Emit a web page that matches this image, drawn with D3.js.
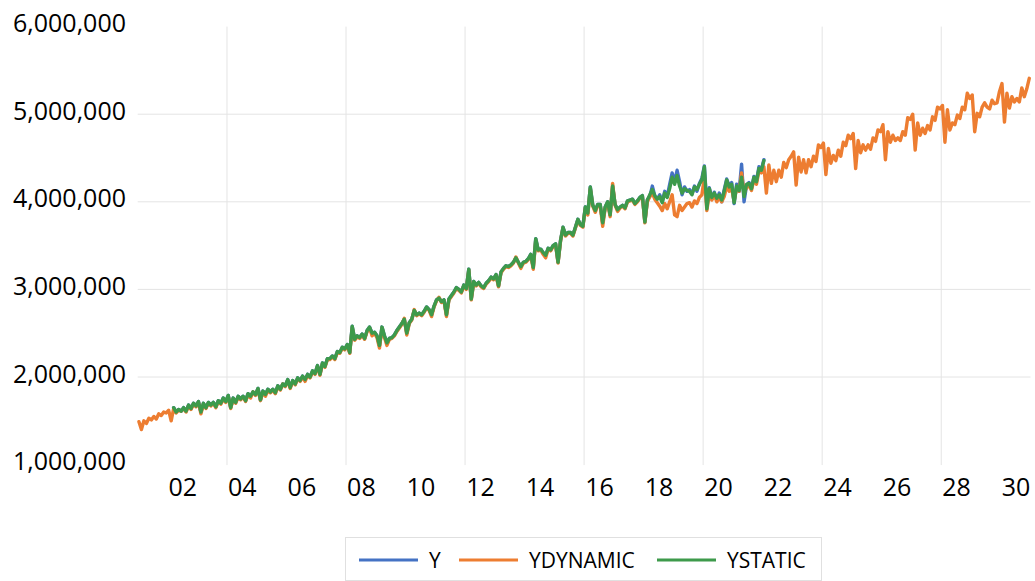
<!DOCTYPE html>
<html>
<head>
<meta charset="utf-8">
<script src="https://d3js.org/d3.v7.min.js"></script>
<style>
  body { margin: 0; background: #fff; }
  svg text { font-family: "Open Sans", "Noto Sans", sans-serif; fill: #000; }
</style>
</head>
<body>
<div id="chart"></div>
<script>

// monthly data, first point = Jul 2000 (month index 0), values in thousands
var startYear = 2000, startMonth = 7;

var seriesNames = ["Y", "YDYNAMIC", "YSTATIC"];
var seriesColors = ["#4472c4", "#ed7d31", "#3d9a4b"];

// YDYNAMIC : Jul 2000 .. Jun 2030
var ydynamic = [
  1490,1400,1500,1470,1530,1510,
  1550,1520,1580,1560,1600,1590,1620,1500,1640,1590,1620,1610,
  1640,1600,1670,1630,1690,1660,1710,1580,1690,1640,1700,1670,
  1700,1650,1720,1690,1750,1710,1780,1640,1750,1700,1770,1740,
  1770,1720,1800,1760,1830,1790,1860,1730,1830,1780,1850,1820,
  1850,1810,1890,1850,1920,1890,1960,1870,1950,1910,1980,1950,
  2000,1950,2020,1990,2060,2030,2120,2020,2150,2110,2200,2200,
  2230,2200,2280,2270,2330,2310,2360,2270,2560,2420,2460,2440,
  2480,2430,2520,2560,2470,2500,2450,2330,2560,2450,2360,2430,
  2440,2470,2520,2560,2600,2670,2480,2610,2650,2770,2700,2720,
  2700,2740,2790,2760,2690,2800,2870,2910,2850,2870,2690,2880,
  2920,2960,3010,2990,2960,3040,3000,3220,2880,3080,3040,3070,
  3030,3010,3060,3090,3130,3110,3160,3030,3190,3230,3260,3250,
  3270,3300,3370,3300,3240,3300,3310,3340,3390,3230,3560,3440,
  3450,3400,3360,3460,3440,3490,3510,3300,3550,3700,3610,3640,
  3640,3610,3700,3790,3730,3710,3930,3850,4150,3950,3880,3960,
  3960,3720,3930,3990,3830,4210,3960,3890,3930,3950,3920,4000,
  4010,4020,3970,4000,4040,4060,3760,4000,4060,4100,4030,3990,
  3950,3900,3980,3920,4000,4080,3850,3830,3960,3900,3940,3980,
  3990,3940,4010,3980,4050,4080,4280,3900,4100,4020,4080,4000,
  4050,4000,4060,4180,4120,4150,4010,4160,4120,4330,4100,4160,
  4190,4130,4260,4200,4350,4330,4400,4100,4420,4210,4360,4230,
  4360,4280,4450,4390,4480,4520,4570,4190,4510,4340,4480,4330,
  4480,4400,4520,4460,4650,4620,4670,4310,4610,4440,4530,4470,
  4590,4520,4680,4640,4760,4720,4780,4380,4700,4560,4650,4590,
  4650,4600,4730,4690,4820,4800,4880,4480,4800,4680,4760,4700,
  4730,4700,4800,4760,4960,4940,5000,4590,4900,4760,4840,4780,
  4870,4820,4970,4930,5080,5060,5100,4680,5050,4820,4900,4880,
  4990,4950,5080,5050,5240,5180,5220,4800,5010,4970,5080,5130,
  5080,5060,5160,5120,5130,5260,5350,4910,5240,5070,5200,5140,
  5180,5140,5300,5200,5290,5410
];

// YSTATIC : Sep 2001 .. Jul 2021
var ystaticStart = 14;
var ystatic = [
  1650,1600,1630,1610,
  1650,1610,1680,1640,1700,1670,1720,1600,1700,1650,1710,1680,
  1710,1660,1730,1700,1760,1720,1790,1650,1760,1710,1780,1750,
  1780,1730,1810,1780,1830,1800,1870,1740,1840,1800,1860,1830,
  1860,1820,1900,1860,1920,1900,1970,1880,1960,1920,1990,1960,
  2010,1970,2030,2000,2070,2040,2130,2030,2160,2120,2210,2210,
  2240,2210,2290,2280,2340,2320,2370,2280,2580,2430,2470,2450,
  2490,2440,2530,2570,2500,2510,2470,2360,2570,2470,2390,2440,
  2450,2480,2530,2570,2610,2660,2500,2620,2660,2760,2710,2730,
  2710,2750,2800,2770,2710,2810,2880,2900,2860,2880,2710,2890,
  2930,2970,3020,3000,2970,3050,3010,3230,2890,3090,3050,3080,
  3040,3020,3070,3100,3140,3120,3170,3040,3200,3240,3270,3260,
  3280,3310,3360,3310,3260,3310,3320,3350,3400,3250,3580,3450,
  3460,3420,3390,3470,3450,3500,3520,3310,3560,3710,3620,3650,
  3650,3620,3710,3800,3740,3720,3940,3870,4170,3960,3900,3970,
  3970,3760,3940,4000,3850,4180,3970,3910,3940,3960,3930,4010,
  4020,4030,3980,4010,4050,4070,3770,4020,4080,4140,4070,4030,
  4060,3990,4100,4050,4150,4280,4200,4300,4180,4100,4150,4130,
  4120,4080,4170,4140,4200,4250,4400,3920,4150,4050,4100,4040,
  4080,4020,4120,4250,4170,4200,3990,4180,4130,4280,4060,4200,
  4210,4150,4280,4230,4380,4360,4470
];

// Y : Sep 2001 .. Jul 2021
var yStart = 14;
var yActual = [
  1650,1600,1630,1610,
  1650,1610,1680,1640,1700,1670,1720,1600,1700,1650,1710,1680,
  1710,1660,1730,1700,1760,1720,1790,1650,1760,1710,1780,1750,
  1780,1730,1810,1780,1830,1800,1870,1740,1840,1800,1860,1830,
  1860,1820,1900,1860,1920,1900,1970,1880,1960,1920,1990,1960,
  2010,1970,2030,2000,2070,2040,2130,2030,2160,2120,2210,2210,
  2240,2210,2290,2280,2340,2320,2370,2280,2580,2430,2470,2450,
  2490,2440,2530,2570,2500,2510,2470,2360,2570,2470,2390,2440,
  2450,2480,2530,2570,2610,2660,2500,2620,2660,2760,2710,2730,
  2710,2750,2800,2770,2710,2810,2880,2900,2860,2880,2710,2890,
  2930,2970,3020,3000,2970,3050,3010,3230,2890,3090,3050,3080,
  3040,3020,3070,3100,3140,3120,3170,3040,3200,3240,3270,3260,
  3280,3310,3360,3310,3260,3310,3320,3350,3400,3250,3580,3450,
  3460,3420,3390,3470,3450,3500,3520,3310,3560,3710,3620,3650,
  3650,3620,3710,3800,3740,3720,3940,3870,4170,3960,3900,3970,
  3970,3760,3940,4000,3850,4180,3970,3910,3940,3960,3930,4010,
  4020,4030,3980,4010,4050,4070,3770,4020,4060,4180,4070,4030,
  4080,4000,4120,4060,4200,4330,4230,4360,4230,4080,4170,4120,
  4140,4090,4180,4120,4210,4270,4410,3950,4160,4030,4110,4020,
  4100,4000,4140,4260,4180,4220,3980,4200,4120,4430,4000,4190,
  4220,4160,4290,4240,4400,4370,4480
];

// axis ticks
var yTicks = [1000, 2000, 3000, 4000, 5000, 6000];
var yGrid = [2000, 3000, 4000, 5000];
var xTickYears = [2002,2004,2006,2008,2010,2012,2014,2016,2018,2020,2022,2024,2026,2028,2030];
var xTickLabels = ["02","04","06","08","10","12","14","16","18","20","22","24","26","28","30"];
var xGridMonths = [36, 84, 132, 180, 228, 276, 324];   // Jul 2003, Jul 2007, ...

var W = 1035, H = 581;
var plot = {left: 137.7, right: 1030.5, top: 26.6, bottom: 464.6};

var svg = d3.select("#chart").append("svg")
  .attr("width", W).attr("height", H);

var nMonths = ydynamic.length;
var x = d3.scaleLinear().domain([0, nMonths]).range([plot.left, plot.right]);
var y = d3.scaleLinear().domain([1000, 6000]).range([plot.bottom, plot.top]);

function monthIndex(yr) { return (yr - startYear) * 12 - (startMonth - 1); }

// gridlines
svg.append("g").selectAll("line").data(yGrid).enter().append("line")
  .attr("x1", plot.left).attr("x2", plot.right)
  .attr("y1", function(d){ return y(d); }).attr("y2", function(d){ return y(d); })
  .attr("stroke", "#e4e4e4").attr("stroke-width", 1);

svg.append("g").selectAll("line").data(xGridMonths).enter().append("line")
  .attr("x1", function(d){ return x(d); }).attr("x2", function(d){ return x(d); })
  .attr("y1", plot.top).attr("y2", plot.bottom + 0.5)
  .attr("stroke", "#e4e4e4").attr("stroke-width", 1);

// y axis labels
var yAxis = svg.append("g")
  .attr("transform", "translate(" + plot.left + ",0)")
  .call(d3.axisLeft(y).tickValues(yTicks).tickSize(0).tickPadding(11.7)
    .tickFormat(function(d){ return d3.format(",")(d * 1000); }));
yAxis.select(".domain").remove();
yAxis.selectAll("text")
  .attr("dy", 5).attr("font-size", 25).style("font-family", "'Open Sans', sans-serif");

// x axis labels
var xAxis = svg.append("g")
  .attr("transform", "translate(0," + 496 + ")")
  .call(d3.axisBottom(x).tickValues(xTickYears.map(monthIndex)).tickSize(0).tickPadding(0)
    .tickFormat(function(d, i){ return xTickLabels[i]; }));
xAxis.select(".domain").remove();
xAxis.selectAll("text")
  .attr("dy", 0).attr("y", 0).attr("font-size", 25).style("font-family", "'Open Sans', sans-serif");

// lines
var line = d3.line()
  .x(function(d){ return x(d.i + 0.5); })
  .y(function(d){ return y(d.v); });

function toPoints(arr, start) {
  return arr.map(function(v, k){ return {i: start + k, v: v}; });
}

var dataReady = [
  {name: seriesNames[0], color: seriesColors[0], values: toPoints(yActual, yStart)},
  {name: seriesNames[1], color: seriesColors[1], values: toPoints(ydynamic, 0)},
  {name: seriesNames[2], color: seriesColors[2], values: toPoints(ystatic, ystaticStart)}
];

svg.selectAll("path.series").data(dataReady).enter().append("path")
  .attr("class", "series")
  .attr("d", function(d){ return line(d.values); })
  .attr("fill", "none")
  .attr("stroke", function(d){ return d.color; })
  .attr("stroke-width", 3.4)
  .attr("stroke-linejoin", "round")
  .attr("stroke-linecap", "round");

// legend
var legend = svg.append("g");
legend.append("rect")
  .attr("x", 345.5).attr("y", 537.5).attr("width", 476).attr("height", 43)
  .attr("fill", "#fff").attr("stroke", "#e0e0e0").attr("stroke-width", 1);

var legX = [359, 459, 657];
var item = legend.selectAll("g.item").data(dataReady).enter().append("g")
  .attr("class", "item")
  .attr("transform", function(d, i){ return "translate(" + legX[i] + ",560)"; });
item.append("line")
  .attr("x1", 0).attr("x2", 59).attr("y1", 0).attr("y2", 0)
  .attr("stroke", function(d){ return d.color; }).attr("stroke-width", 3);
item.append("text")
  .attr("x", 70).attr("y", 7.5)
  .attr("font-size", 21)
  .text(function(d){ return d.name; });

</script>
</body>
</html>
